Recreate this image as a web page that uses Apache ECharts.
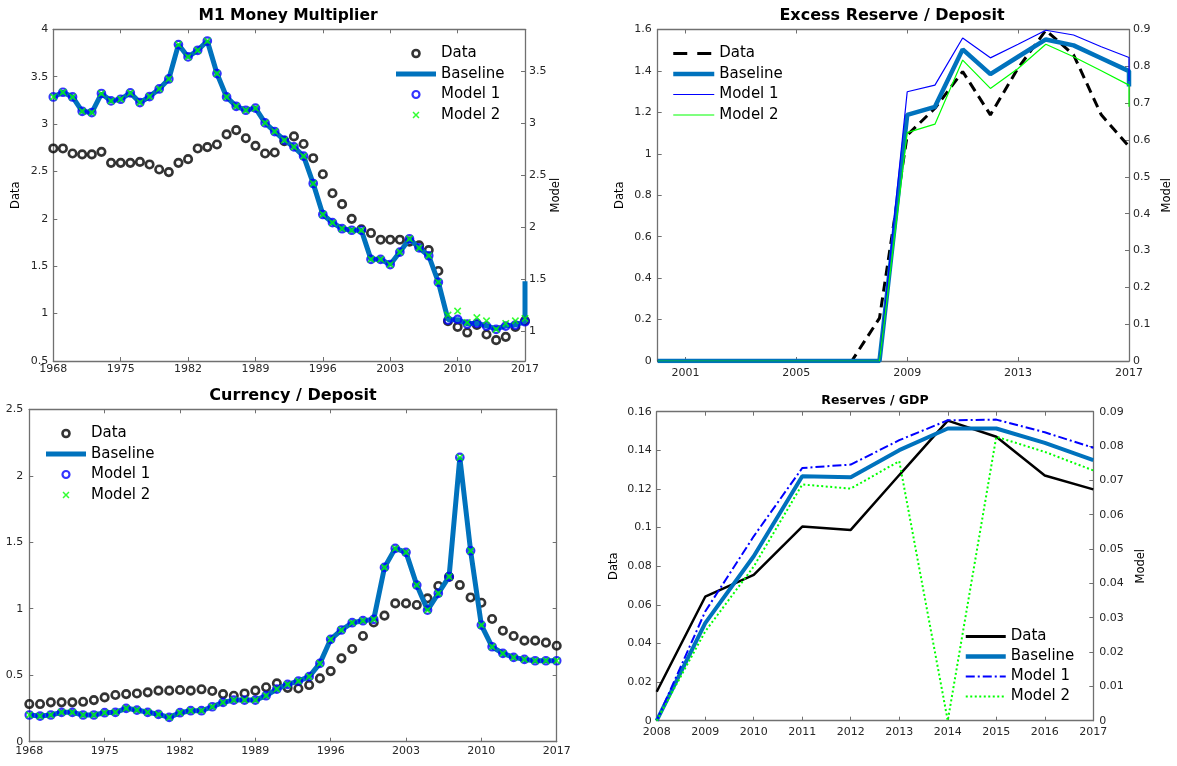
<!DOCTYPE html>
<html><head><meta charset="utf-8">
<script src="https://cdn.jsdelivr.net/npm/echarts@6.0.0/dist/echarts.min.js"></script>
<style>html,body{margin:0;padding:0;background:#fff}#c{width:1177px;height:766px}</style>
</head><body><div id="c"></div><script>
// ---------- data ----------
const yearsLong = []; for (let y = 1968; y <= 2017; y++) yearsLong.push(y);
const yearsB = []; for (let y = 2000; y <= 2017; y++) yearsB.push(y);
const yearsD = []; for (let y = 2008; y <= 2017; y++) yearsD.push(y);

// Panel A: M1 Money Multiplier (Data on left axis, models on right axis)
const dataA = [2.743,2.743,2.69,2.68,2.68,2.707,2.591,2.591,2.591,2.601,
  2.574,2.521,2.493,2.591,2.63,2.743,2.757,2.785,2.891,2.936,
  2.85,2.77,2.69,2.70,2.82,2.87,2.79,2.64,2.47,2.27,
  2.155,2.0,1.89,1.85,1.78,1.78,1.78,1.76,1.72,1.67,
  1.45,0.92,0.86,0.80,0.88,0.78,0.72,0.755,0.86,0.925];
const baselineA = [3.253,3.298,3.253,3.115,3.103,3.286,3.215,3.231,3.292,3.199,
  3.257,3.33,3.426,3.757,3.638,3.702,3.791,3.478,3.253,3.163,
  3.125,3.145,3.003,2.92,2.837,2.772,2.683,2.42,2.122,2.043,
  1.985,1.97,1.97,1.69,1.69,1.64,1.76,1.888,1.80,1.725,
  1.47,1.11,1.11,1.07,1.075,1.05,1.02,1.05,1.06,1.09];
const baselineAEnd = 1.48;
const model1ATail = [1.106,1.112,1.067,1.074,1.048,1.016,1.048,1.058,1.09];   // 2009-2017
const model2ATail = [1.154,1.192,1.083,1.13,1.099,1.016,1.074,1.099,1.122];   // 2009-2017
const model1A = baselineA.slice(0, 41).concat(model1ATail);
const model2A = baselineA.slice(0, 41).concat(model2ATail);

// Panel B: Excess Reserve / Deposit (2000-2017)
const dataB = [0,0,0,0,0,0,0,0,0.207,1.09,1.22,1.397,1.188,1.414,1.596,1.478,1.188,1.035];
const baselineB = [0,0,0,0,0,0,0,0,0,0.668,0.69,0.846,0.779,0.826,0.873,0.857,0.822,0.787];
const model1B = [0,0,0,0,0,0,0,0,0,0.731,0.749,0.877,0.823,0.86,0.898,0.885,0.853,0.824];
const model2B = [0,0,0,0,0,0,0,0,0,0.62,0.643,0.817,0.74,0.794,0.86,0.826,0.788,0.749];
const endB = { baseline: 0.745, model1: 0.76, model2: 0.69 };

// Panel C: Currency / Deposit
const dataC = [0.283,0.283,0.296,0.296,0.296,0.30,0.313,0.333,0.351,0.358,
  0.363,0.371,0.384,0.384,0.389,0.384,0.394,0.381,0.358,0.346,
  0.363,0.384,0.409,0.439,0.405,0.40,0.426,0.476,0.531,0.627,
  0.697,0.795,0.897,0.948,1.04,1.04,1.028,1.078,1.171,1.24,
  1.178,1.085,1.045,0.923,0.835,0.795,0.76,0.76,0.745,0.722];
const baselineC = [0.201,0.193,0.201,0.221,0.221,0.201,0.201,0.218,0.221,0.251,
  0.238,0.221,0.206,0.183,0.218,0.233,0.233,0.263,0.296,0.313,
  0.313,0.313,0.346,0.396,0.431,0.456,0.489,0.589,0.77,0.84,
  0.895,0.91,0.92,1.311,1.454,1.424,1.178,0.99,1.116,1.241,
  2.138,1.436,0.877,0.714,0.664,0.634,0.619,0.609,0.609,0.609];
const model1C = baselineC.slice();
const model2C = baselineC.slice();

// Panel D: Reserves / GDP (2008-2017)
const dataD = [0.015,0.0642,0.0755,0.1005,0.0988,0.1272,0.1554,0.147,0.127,0.1198];
const baselineD = [0,0.0284,0.0479,0.0712,0.0709,0.0788,0.0851,0.0851,0.0809,0.0759];
const model1D = [0,0.0318,0.0537,0.0736,0.0746,0.0817,0.0875,0.0877,0.084,0.0795];
const model2D = [0,0.026,0.0449,0.0688,0.0676,0.0756,0,0.0827,0.0783,0.0729];

// ---------- styling helpers ----------
const F = 'DejaVu Sans';
const AX = '#707070';
const TXT = '#262626';
const BLUE = '#0072BD';
const XPATH = 'path://M0,1.5L1.5,0L5,3.5L8.5,0L10,1.5L6.5,5L10,8.5L8.5,10L5,6.5L1.5,10L0,8.5L3.5,5Z';

function axisCommon(extra) {
  return Object.assign({
    axisLine: { show: true, onZero: false, lineStyle: { color: AX, width: 1.3 } },
    axisTick: { show: true, inside: true, length: 4, lineStyle: { color: AX, width: 1 } },
    splitLine: { show: false },
    axisLabel: { show: true, fontFamily: F, fontSize: 11, color: TXT }
  }, extra);
}
function xPair(grid, base, fmt, margin) {
  const b = axisCommon(Object.assign({ gridIndex: grid, position: 'bottom' }, base));
  b.axisLabel = Object.assign({}, b.axisLabel, { margin: margin, formatter: fmt, showMaxLabel: base.inverse ? false : true });
  const t = axisCommon(Object.assign({ gridIndex: grid, position: 'top' }, base));
  t.axisLabel = { show: false };
  return [b, t];
}
function yAx(grid, pos, base, label, name, gap, margin) {
  const a = axisCommon(Object.assign({ gridIndex: grid, position: pos }, base));
  a.axisLabel = Object.assign({}, a.axisLabel, { show: label, margin: margin });
  if (base.hideEnds) { a.axisLabel.showMinLabel = false; a.axisLabel.showMaxLabel = false; delete a.hideEnds; }
  if (name) {
    a.name = name; a.nameLocation = 'middle'; a.nameRotate = 90; a.nameGap = gap;
    a.nameTextStyle = { fontFamily: F, fontSize: 11.5, color: '#000' };
  }
  return a;
}

const xAxis = [].concat(
  xPair(0, { type: 'value', min: 0, max: 49, interval: 7 }, v => String(v + 1968), 3),
  xPair(1, { type: 'value', min: 0, max: 17, interval: 4, inverse: true }, v => String(2017 - v), 7),
  xPair(2, { type: 'value', min: 0, max: 49, interval: 7 }, v => String(v + 1968), 4),
  xPair(3, { type: 'value', min: 0, max: 9, interval: 1 }, v => String(v + 2008), 6)
);
const yAxis = [
  yAx(0, 'left', { type: 'value', min: 0.5, max: 4, interval: 0.5 }, true, 'Data', 31, 5),
  yAx(0, 'right', { type: 'value', min: 0.712, max: 3.904, splitNumber: 6, hideEnds: true }, true, 'Model', 24, 4),
  yAx(1, 'left', { type: 'value', min: 0, max: 1.6, interval: 0.2 }, true, 'Data', 32, 6),
  yAx(1, 'right', { type: 'value', min: 0, max: 0.9, interval: 0.1 }, true, 'Model', 32, 4),
  yAx(2, 'left', { type: 'value', min: 0, max: 2.5, interval: 0.5 }, true, null, 0, 6),
  yAx(2, 'right', { type: 'value', min: 0, max: 2.5, interval: 0.5 }, false, null, 0, 4),
  yAx(3, 'left', { type: 'value', min: 0, max: 0.16, interval: 0.02 }, true, 'Data', 37, 5),
  yAx(3, 'right', { type: 'value', min: 0, max: 0.09, interval: 0.01 }, true, 'Model', 42, 6)
];

const grid = [
  { left: 53.3, top: 29.3, width: 471.7, height: 331.7 },
  { left: 657.7, top: 29.5, width: 471.3, height: 331.5 },
  { left: 29.3, top: 409.3, width: 527.4, height: 332.4 },
  { left: 656.7, top: 411.7, width: 436.6, height: 309 }
];

const pts = (xs, ys, f) => xs.map((x, i) => [f(x), ys[i]]);
const fA = y => y - 1968, fB = y => 2017 - y, fD = y => y - 2008;

const openCircle = (c, bw) => ({ color: 'rgba(0,0,0,0)', borderColor: c, borderWidth: bw });
const noEmph = { disabled: true };

const series = [
  // Panel A
  { name: 'Data#A', type: 'scatter', xAxisIndex: 0, yAxisIndex: 0, data: pts(yearsLong, dataA, fA),
    symbol: 'circle', symbolSize: 7.5, itemStyle: openCircle('#000', 2.6), z: 2, emphasis: noEmph },
  { name: 'Baseline#A', type: 'line', xAxisIndex: 0, yAxisIndex: 1,
    data: pts(yearsLong, baselineA, fA).concat([[fA(2017), baselineAEnd]]),
    symbol: 'none', lineStyle: { width: 5, color: BLUE }, itemStyle: { color: BLUE }, z: 3, emphasis: noEmph },
  { name: 'Model 1#A', type: 'scatter', xAxisIndex: 0, yAxisIndex: 1, data: pts(yearsLong, model1A, fA),
    symbol: 'circle', symbolSize: 7.5, itemStyle: openCircle('#0000FF', 2.2), z: 4, emphasis: noEmph },
  { name: 'Model 2#A', type: 'scatter', xAxisIndex: 0, yAxisIndex: 1, data: pts(yearsLong, model2A, fA),
    symbol: XPATH, symbolSize: 7.5, itemStyle: { color: '#00FF00' }, z: 5, emphasis: noEmph },
  // Panel B
  { name: 'Data#B', type: 'line', xAxisIndex: 2, yAxisIndex: 2, data: pts(yearsB, dataB, fB),
    symbol: 'none', lineStyle: { width: 3, type: [10, 6], color: '#000' }, itemStyle: { color: '#000' }, z: 2, emphasis: noEmph },
  { name: 'Baseline#B', type: 'line', xAxisIndex: 2, yAxisIndex: 3,
    data: pts(yearsB, baselineB, fB).concat([[fB(2017), endB.baseline]]),
    symbol: 'none', lineStyle: { width: 4.5, color: BLUE }, itemStyle: { color: BLUE }, z: 3, emphasis: noEmph },
  { name: 'Model 1#B', type: 'line', xAxisIndex: 2, yAxisIndex: 3,
    data: pts(yearsB, model1B, fB).concat([[fB(2017), endB.model1]]),
    symbol: 'none', lineStyle: { width: 1.2, color: '#0000FF' }, itemStyle: { color: '#0000FF' }, z: 4, emphasis: noEmph },
  { name: 'Model 2#B', type: 'line', xAxisIndex: 2, yAxisIndex: 3,
    data: pts(yearsB, model2B, fB).concat([[fB(2017), endB.model2]]),
    symbol: 'none', lineStyle: { width: 1.2, color: '#00FF00' }, itemStyle: { color: '#00FF00' }, z: 5, emphasis: noEmph },
  // Panel C
  { name: 'Data#C', type: 'scatter', xAxisIndex: 4, yAxisIndex: 4, data: pts(yearsLong, dataC, fA),
    symbol: 'circle', symbolSize: 7.5, itemStyle: openCircle('#000', 2.6), z: 2, emphasis: noEmph },
  { name: 'Baseline#C', type: 'line', xAxisIndex: 4, yAxisIndex: 4, data: pts(yearsLong, baselineC, fA),
    symbol: 'none', lineStyle: { width: 5, color: BLUE }, itemStyle: { color: BLUE }, z: 3, emphasis: noEmph },
  { name: 'Model 1#C', type: 'scatter', xAxisIndex: 4, yAxisIndex: 4, data: pts(yearsLong, model1C, fA),
    symbol: 'circle', symbolSize: 7.5, itemStyle: openCircle('#0000FF', 2.2), z: 4, emphasis: noEmph },
  { name: 'Model 2#C', type: 'scatter', xAxisIndex: 4, yAxisIndex: 4, data: pts(yearsLong, model2C, fA),
    symbol: XPATH, symbolSize: 7.5, itemStyle: { color: '#00FF00' }, z: 5, emphasis: noEmph },
  // Panel D
  { name: 'Data#D', type: 'line', xAxisIndex: 6, yAxisIndex: 6, data: pts(yearsD, dataD, fD),
    symbol: 'none', lineStyle: { width: 2.5, color: '#000' }, itemStyle: { color: '#000' }, z: 2, emphasis: noEmph },
  { name: 'Baseline#D', type: 'line', xAxisIndex: 6, yAxisIndex: 7, data: pts(yearsD, baselineD, fD),
    symbol: 'none', lineStyle: { width: 4, color: BLUE }, itemStyle: { color: BLUE }, z: 3, emphasis: noEmph },
  { name: 'Model 1#D', type: 'line', xAxisIndex: 6, yAxisIndex: 7, data: pts(yearsD, model1D, fD),
    symbol: 'none', lineStyle: { width: 2, type: [9, 3, 2, 3], color: '#0000FF' }, itemStyle: { color: '#0000FF' }, z: 4, emphasis: noEmph },
  { name: 'Model 2#D', type: 'line', xAxisIndex: 6, yAxisIndex: 7, data: pts(yearsD, model2D, fD),
    symbol: 'none', lineStyle: { width: 2, type: [2, 2.5], color: '#00FF00' }, itemStyle: { color: '#00FF00' }, z: 5, emphasis: noEmph }
];

function legend(left, top, iw, gap, items) {
  return {
    orient: 'vertical', left: left, top: top, padding: 0, itemWidth: iw, itemHeight: 7, itemGap: gap,
    selectedMode: false, formatter: n => n.split('#')[0],
    textStyle: { fontFamily: F, fontSize: 15, color: '#000' },
    data: items
  };
}
const hiddenSym = { color: 'rgba(0,0,0,0)', borderWidth: 0, opacity: 0 };
const lineItem = (name, ls) => ({ name: name, lineStyle: ls, itemStyle: hiddenSym });
const markerLegend = s => [
  { name: 'Data#' + s, icon: 'circle', itemStyle: openCircle('#000', 2.6) },
  lineItem('Baseline#' + s, { width: 5, color: BLUE }),
  { name: 'Model 1#' + s, icon: 'circle', itemStyle: openCircle('#0000FF', 2.2) },
  { name: 'Model 2#' + s, icon: XPATH, itemStyle: { color: '#00FF00', borderWidth: 0 } }
];

const option = {
  animation: false,
  backgroundColor: '#fff',
  textStyle: { fontFamily: F },
  title: [
    { text: 'M1 Money Multiplier', left: 288, top: 8, textAlign: 'center', padding: 0,
      textStyle: { fontFamily: F, fontSize: 15.5, fontWeight: 'bold', color: '#000' } },
    { text: 'Excess Reserve / Deposit', left: 892, top: 8, textAlign: 'center', padding: 0,
      textStyle: { fontFamily: F, fontSize: 16, fontWeight: 'bold', color: '#000' } },
    { text: 'Currency / Deposit', left: 293, top: 388, textAlign: 'center', padding: 0,
      textStyle: { fontFamily: F, fontSize: 16, fontWeight: 'bold', color: '#000' } },
    { text: 'Reserves / GDP', left: 875, top: 394.5, textAlign: 'center', padding: 0,
      textStyle: { fontFamily: F, fontSize: 12.5, fontWeight: 'bold', color: '#000' } }
  ],
  grid: grid,
  xAxis: xAxis,
  yAxis: yAxis,
  legend: [
    legend(393.5, 46, 40, 5.5, markerLegend('A')),
    legend(671, 46, 41, 5.5, [
      lineItem('Data#B', { width: 3, type: [14, 10], color: '#000' }),
      lineItem('Baseline#B', { width: 4.5, color: BLUE }),
      lineItem('Model 1#B', { width: 1.2, color: '#0000FF' }),
      lineItem('Model 2#B', { width: 1.2, color: '#00FF00' })
    ]),
    legend(43.5, 426, 40, 5.5, markerLegend('C')),
    legend(963.5, 629, 40, 5, [
      lineItem('Data#D', { width: 3, color: '#000' }),
      lineItem('Baseline#D', { width: 4.5, color: BLUE }),
      lineItem('Model 1#D', { width: 2, type: [9, 3, 2, 3], color: '#0000FF' }),
      lineItem('Model 2#D', { width: 2, type: [2, 2.5], color: '#00FF00' })
    ])
  ],
  series: series
};
const chart = echarts.init(document.getElementById('c'), null, { renderer: 'canvas' });
chart.setOption(option);
</script></body></html>
